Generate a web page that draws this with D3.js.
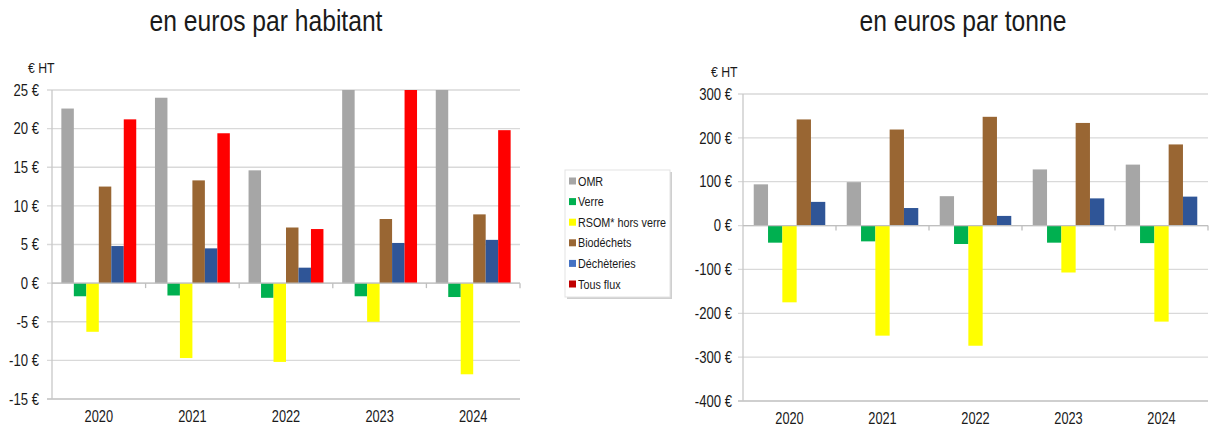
<!DOCTYPE html>
<html><head><meta charset="utf-8">
<script src="https://cdn.jsdelivr.net/npm/d3@7"></script>
<style>
body{margin:0;background:#fff;}
svg{display:block;font-family:"Liberation Sans Narrow","Liberation Sans",Arial,sans-serif;}
</style></head>
<body><svg id="c" width="1209" height="427"></svg>
<script>
const years = ["2020","2021","2022","2023","2024"];
const seriesNames = ["OMR","Verre","RSOM* hors verre","Biodéchets","Déchèteries","Tous flux"];
const seriesColors = ["#a6a6a6","#00b050","#ffff00","#996633","#2f5597","#ff0000"];
const legendColors = ["#a6a6a6","#00b050","#ffff00","#996633","#4472c4","#c00000"];

// en euros par habitant (per series, per year)
const habOMR   = [22.6, 24.0, 14.6, 25.0, 25.0];
const habVerre = [-1.7, -1.6, -1.9, -1.7, -1.8];
const habRSOM  = [-6.3, -9.7, -10.2, -5.0, -11.8];
const habBio   = [12.5, 13.3, 7.2, 8.3, 8.9];
const habDech  = [4.8, 4.5, 2.0, 5.2, 5.6];
const habTous  = [21.2, 19.4, 7.0, 25.0, 19.8];
const habTicks = [25,20,15,10,5,0,-5,-10,-15];

// en euros par tonne
const tonOMR   = [94, 99, 67, 128, 139];
const tonVerre = [-39, -36, -42, -39, -40];
const tonRSOM  = [-175, -251, -274, -107, -219];
const tonBio   = [242, 219, 248, 234, 185];
const tonDech  = [54, 40, 22, 62, 66];
const tonTicks = [300,200,100,0,-100,-200,-300,-400];

const svg = d3.select("#c");
const TXT = "#1a1a1a";

function drawChart(cfg){
  const {x0,x1,yTop,yBot,domain,ticks,series,title,titleX,unitX,labelX,id} = cfg;
  const g = svg.append("g");
  const x = d3.scaleBand().domain(years).range([x0,x1]).padding(0);
  const bw = x.bandwidth();
  const n = series.length;
  const unit = bw/(n+1.5);
  const xi = d3.scaleBand().domain(d3.range(n)).range([0.75*unit, bw-0.75*unit]).padding(0);
  const y = d3.scaleLinear().domain(domain).range([yBot,yTop]);

  g.append("clipPath").attr("id",id).append("rect")
    .attr("x",x0).attr("y",yTop-1).attr("width",x1-x0).attr("height",yBot-yTop+1);

  // gridlines
  g.selectAll(".grid").data(ticks).join("line")
    .attr("x1",x0-5).attr("x2",x1).attr("y1",d=>y(d)).attr("y2",d=>y(d))
    .attr("stroke",d=>d===domain[0]?"#bfbfbf":"#d9d9d9").attr("stroke-width",1.3);
  // y axis line
  g.append("line").attr("x1",x0).attr("x2",x0).attr("y1",yTop).attr("y2",yBot)
    .attr("stroke","#c8c8c8").attr("stroke-width",1.3);
  // y labels
  g.selectAll(".yl").data(ticks).join("text")
    .attr("transform",d=>`translate(${labelX},${y(d)}) scale(0.82,1)`)
    .attr("dy","0.36em")
    .attr("text-anchor","end").attr("font-size",16).attr("fill",TXT)
    .text(d=>d+" €");
  g.append("text").attr("transform",`translate(${unitX},${yTop-17}) scale(0.82,1)`)
    .attr("font-size",15).attr("fill",TXT).text("€ HT");

  // bars
  const bars = g.append("g").attr("clip-path",`url(#${id})`);
  series.forEach((s,si)=>{
    bars.selectAll(null).data(years.map((yr,i)=>({yr,v:s.values[i]}))).join("rect")
      .attr("x",d=>x(d.yr)+xi(si)).attr("width",xi.bandwidth())
      .attr("y",d=>y(Math.max(0,d.v))).attr("height",d=>Math.abs(y(d.v)-y(0)))
      .attr("fill",s.color);
  });

  // zero axis line with ticks at category boundaries
  g.append("line").attr("x1",x0).attr("x2",x1).attr("y1",y(0)).attr("y2",y(0))
    .attr("stroke","#bfbfbf").attr("stroke-width",1.3);
  g.selectAll(".xt").data(years.slice(1).concat(["end"])).join("line")
    .attr("x1",d=>d==="end"?x1:x(d)).attr("x2",d=>d==="end"?x1:x(d))
    .attr("y1",y(0)).attr("y2",y(0)+5).attr("stroke","#bfbfbf").attr("stroke-width",1.3);

  // x labels
  g.selectAll(".xl").data(years).join("text")
    .attr("transform",d=>`translate(${x(d)+bw/2},${yBot+17}) scale(0.8,1)`)
    .attr("dy","0.36em")
    .attr("text-anchor","middle").attr("font-size",16).attr("fill",TXT).text(d=>d);

  // title
  svg.append("text").attr("transform",`translate(${titleX},31) scale(0.85,1)`)
    .attr("text-anchor","middle")
    .attr("font-size",29).attr("fill",TXT).text(title);
}

drawChart({
  id:"clipL", x0:52, x1:520, yTop:90, yBot:399, domain:[-15,25], ticks:habTicks,
  title:"en euros par habitant", titleX:266, unitX:28, labelX:39,
  series:[
    {values:habOMR,color:seriesColors[0]},
    {values:habVerre,color:seriesColors[1]},
    {values:habRSOM,color:seriesColors[2]},
    {values:habBio,color:seriesColors[3]},
    {values:habDech,color:seriesColors[4]},
    {values:habTous,color:seriesColors[5]}
  ]
});
drawChart({
  id:"clipR", x0:743, x1:1208, yTop:94, yBot:401, domain:[-400,300], ticks:tonTicks,
  title:"en euros par tonne", titleX:963, unitX:711, labelX:732,
  series:[
    {values:tonOMR,color:seriesColors[0]},
    {values:tonVerre,color:seriesColors[1]},
    {values:tonRSOM,color:seriesColors[2]},
    {values:tonBio,color:seriesColors[3]},
    {values:tonDech,color:seriesColors[4]}
  ]
});

// legend
const lg = svg.append("g");
lg.append("rect").attr("x",567).attr("y",172).attr("width",105).attr("height",127).attr("fill","#cfcfcf");
lg.append("rect").attr("x",565).attr("y",170).attr("width",105).attr("height",127)
  .attr("fill","#fff").attr("stroke","#e3e3e3");
const ly = d3.scalePoint().domain(seriesNames).range([181,284]);
lg.selectAll(".sw").data(seriesNames).join("rect")
  .attr("x",569).attr("y",d=>ly(d)-3.5).attr("width",7).attr("height",7)
  .attr("fill",(d,i)=>legendColors[i]);
lg.selectAll(".lt").data(seriesNames).join("text")
  .attr("transform",d=>`translate(578,${ly(d)}) scale(0.83,1)`)
  .attr("dy","0.36em").attr("font-size",13).attr("fill",TXT)
  .text(d=>d);
</script></body></html>
